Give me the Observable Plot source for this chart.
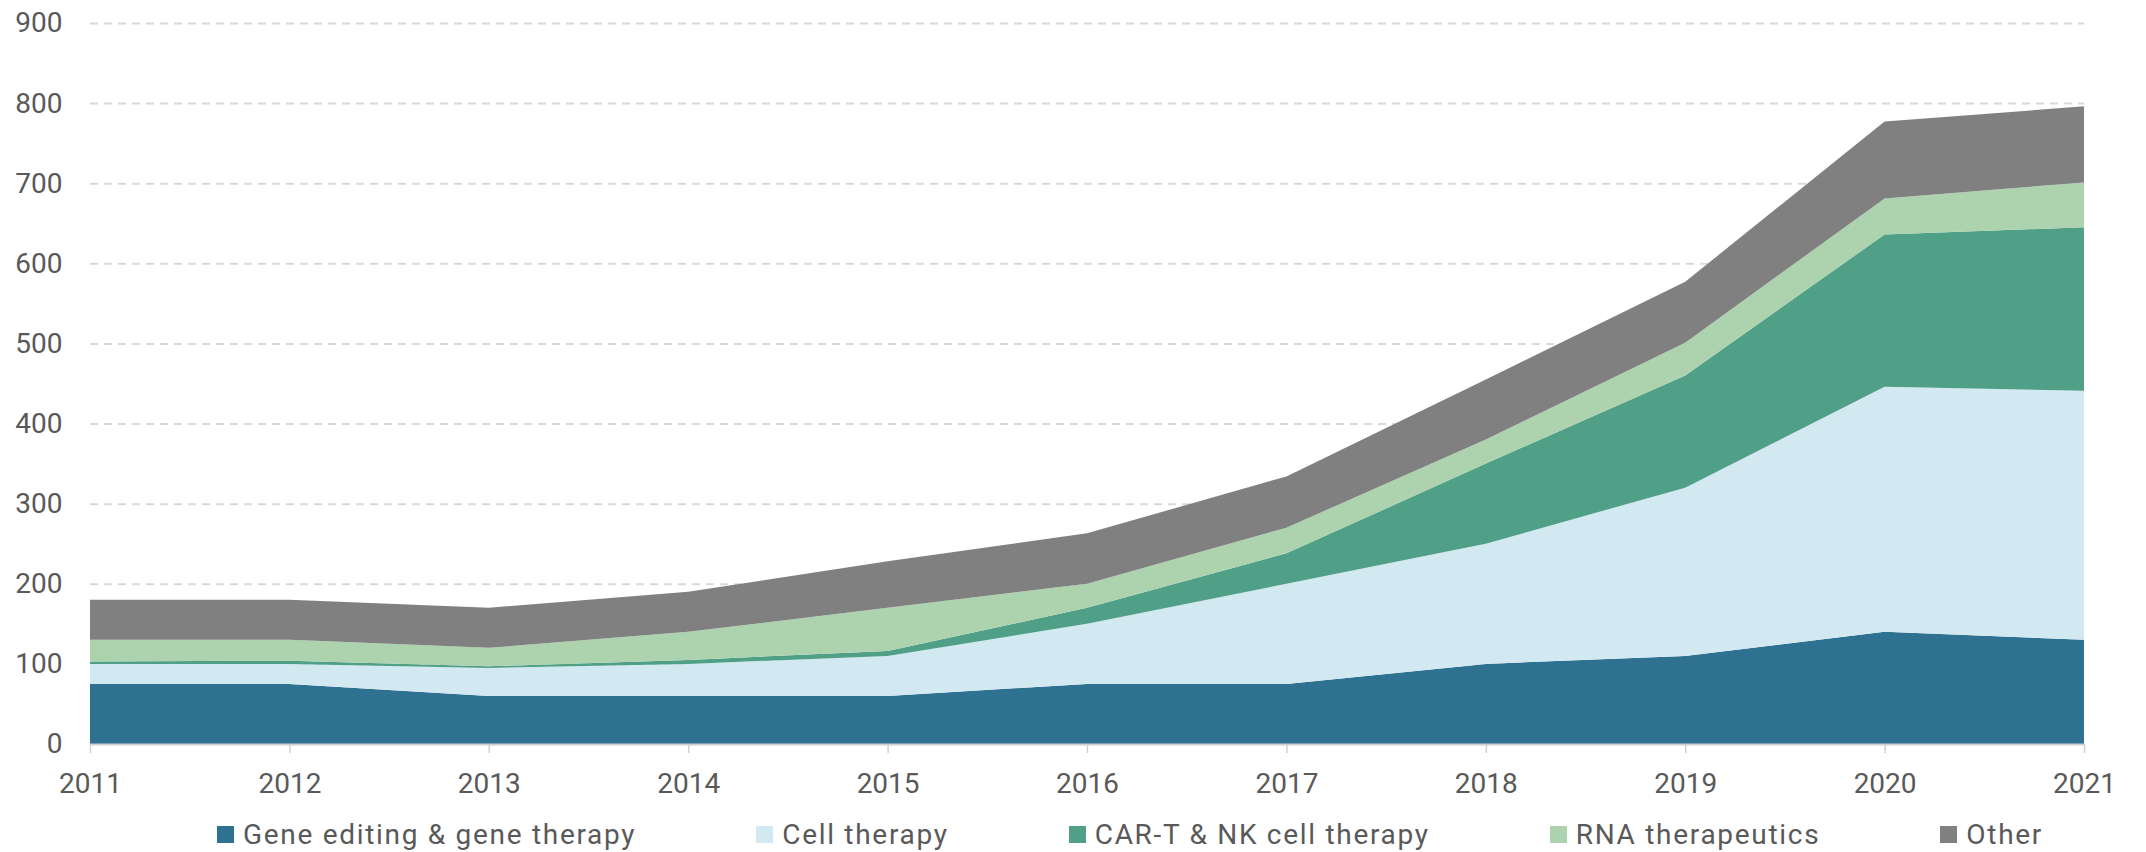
<!DOCTYPE html>
<html>
<head>
<meta charset="utf-8">
<script src="https://cdn.jsdelivr.net/npm/d3@7"></script>
<script src="https://cdn.jsdelivr.net/npm/@observablehq/plot@0.6"></script>
<style>
  html, body { margin: 0; padding: 0; background: #fff; }
  body { width: 2146px; height: 852px; overflow: hidden; font-family: Roboto, "Liberation Sans", Arial, sans-serif; }
  #chart svg { display: block; }
  .legend { display: flex; align-items: center; gap: 120px; padding-left: 217px; padding-top: 16px; height: 36px; font-size: 28px; color: #595959; letter-spacing: 1.7px; }
  .legend .item { display: flex; align-items: center; gap: 9px; white-space: nowrap; }
  .legend .sw { width: 17px; height: 17px; display: inline-block; }
</style>
</head>
<body>
<div id="chart"></div>
<div class="legend" id="legend"></div>
<script>
const years = [2011, 2012, 2013, 2014, 2015, 2016, 2017, 2018, 2019, 2020, 2021];
const seriesNames = ["Gene editing & gene therapy", "Cell therapy", "CAR-T & NK cell therapy", "RNA therapeutics", "Other"];
const colors = ["#2E7190", "#D3E9F1", "#50A087", "#ACD2AE", "#808080"];
const geneEditing = [75, 75, 60, 60, 60, 75, 75, 100, 110, 140, 130];
const cellTherapy = [25, 25, 35, 40, 50, 75, 125, 150, 210, 306, 311];
const carTNK = [3, 4, 2, 5, 6, 20, 38, 100, 140, 190, 204];
const rnaTherapeutics = [27, 26, 23, 35, 54, 30, 32, 30, 41, 45, 56];
const other = [50, 50, 50, 50, 58, 63, 64, 75, 76, 96, 95];
const yTicks = [0, 100, 200, 300, 400, 500, 600, 700, 800, 900];

const seriesValues = [geneEditing, cellTherapy, carTNK, rnaTherapeutics, other];
const data = [];
seriesNames.forEach((name, i) => {
  years.forEach((yr, j) => data.push({year: yr, value: seriesValues[i][j], series: name}));
});

const chart = Plot.plot({
  width: 2146,
  height: 800,
  marginLeft: 90,
  marginRight: 62,
  marginTop: 23,
  marginBottom: 56,
  style: {fontFamily: "Roboto, 'Liberation Sans', Arial, sans-serif", fontSize: "28px", color: "#595959", background: "#fff"},
  x: {domain: [2011, 2021], ticks: years, tickFormat: d => String(d), label: null},
  y: {domain: [0, 900], ticks: yTicks, label: null},
  color: {domain: seriesNames, range: colors},
  marks: [
    Plot.gridY(yTicks.filter(d => d > 0), {stroke: "#d9d9d9", strokeOpacity: 1, strokeWidth: 2, strokeDasharray: "8,6"}),
    Plot.areaY(data, {x: "year", y: "value", fill: "series", z: "series"}),
    Plot.ruleY([0], {stroke: "#d0d0d0", strokeWidth: 2}),
    Plot.axisX({ticks: years, tickFormat: d => String(d), tickSize: 9, tickPadding: 20, stroke: "#d0d0d0", fill: "#595959", label: null, strokeWidth: 1.5}),
    Plot.axisY({ticks: yTicks, tickSize: 0, tickPadding: 28, fill: "#595959", label: null})
  ]
});
document.getElementById("chart").appendChild(chart);

const legend = document.getElementById("legend");
seriesNames.forEach((name, i) => {
  const item = document.createElement("div");
  item.className = "item";
  const sw = document.createElement("span");
  sw.className = "sw";
  sw.style.background = colors[i];
  const t = document.createElement("span");
  t.textContent = name;
  item.appendChild(sw);
  item.appendChild(t);
  legend.appendChild(item);
});
</script>
</body>
</html>
